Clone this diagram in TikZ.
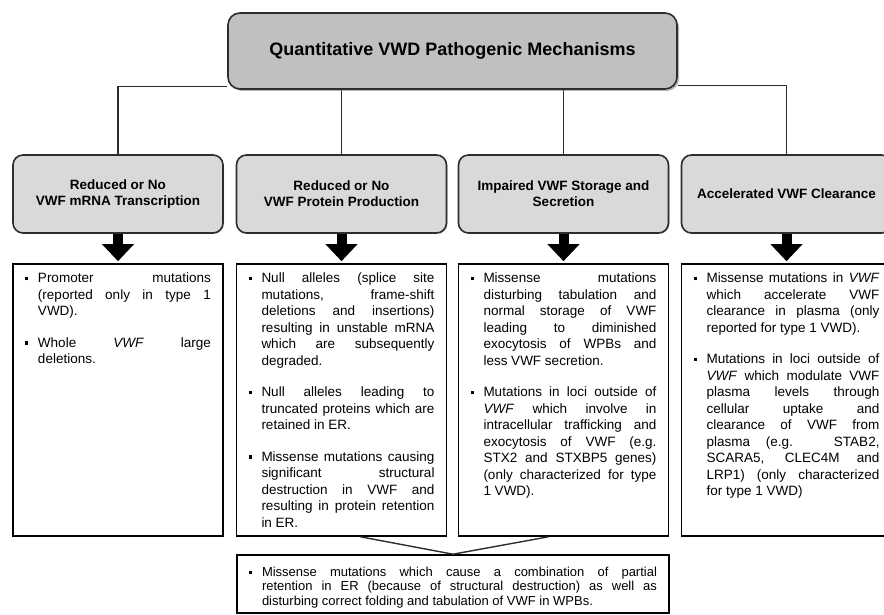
\documentclass[tikz,border=0pt]{standalone}
\usepackage{fontspec}
\setmainfont{Liberation Sans}
\usepackage{xcolor}
\definecolor{headfill}{RGB}{192, 192, 192}
\definecolor{catfill}{RGB}{217, 217, 217}
\definecolor{edge}{RGB}{45, 45, 45}
\usepackage{tikz}
\usetikzlibrary{shapes, arrows.meta, positioning, calc, shadows, backgrounds}

\newcommand{\mechfont}{\fontsize{13.5}{16.5}\selectfont}
\newcommand{\bitem}{\par\addvspace{15pt}\hangindent=13pt\hangafter=1\noindent
	\hbox to 13pt{\raisebox{2.6pt}{\rule{3.2pt}{3.2pt}}\hfil}\ignorespaces}
\newcommand{\mechtext}[2]{\begin{minipage}[t][#1][t]{186pt}\mechfont\hyphenpenalty=10000
		\exhyphenpenalty=10000\tolerance=10000\hbadness=10000\vbadness=10000 #2\end{minipage}}

\tikzset{
	headbox/.style={draw=edge, line width=1.6pt, fill=headfill, rounded corners=12pt,
		minimum width=449pt, minimum height=76pt, font=\fontsize{18}{22}\selectfont\bfseries,
		drop shadow={shadow xshift=2pt, shadow yshift=-2pt, opacity=.55}},
	catbox/.style={draw=edge, line width=1.6pt, fill=catfill, rounded corners=10pt,
		minimum width=210pt, minimum height=78pt, align=center,
		font=\fontsize{13.5}{16}\selectfont\bfseries,
		drop shadow={shadow xshift=1pt, shadow yshift=-1pt, opacity=.35}},
	mechbox/.style={draw=black, line width=1.6pt, fill=white, minimum width=210pt,
		minimum height=272pt, inner xsep=12pt, inner ysep=9pt},
	link/.style={draw=edge, line width=1.4pt},
	bigarrow/.style={line width=10pt, -{Triangle[width=31pt,length=17pt]}, shorten >=2pt}
}

\begin{document}
\begin{tikzpicture}[x=1pt, y=1pt]
	\useasboundingbox (0,0) rectangle (884,615);
	\clip (0,0) rectangle (884,615);
	\node[headbox] (title) at (452.5,564) {Quantitative VWD Pathogenic Mechanisms};
	\node[catbox] (cat1) at (118,421) {Reduced or No\\VWF mRNA Transcription};
	\node[catbox] (cat2) at (341.5,421) {Reduced or No\\VWF Protein Production};
	\node[catbox] (cat3) at (563.5,421) {Impaired VWF Storage and\\Secretion};
	\node[catbox] (cat4) at (786.5,421) {Accelerated VWF Clearance};
	\node[mechbox] (mech1) at (118,215) {\mechtext{254pt}{%
			\bitem Promoter mutations\linebreak (reported only in type 1\linebreak VWD).
			\bitem Whole \textit{VWF} large\linebreak deletions.}};
	\node[mechbox] (mech2) at (341.5,215) {\mechtext{254pt}{%
			\bitem Null alleles (splice site\linebreak mutations, frame-shift\linebreak deletions and insertions)\linebreak resulting in unstable mRNA\linebreak which are subsequently\linebreak degraded.
			\bitem Null alleles leading to\linebreak truncated proteins which are\linebreak retained in ER.
			\bitem Missense mutations causing\linebreak significant structural\linebreak destruction in VWF and\linebreak resulting in protein retention\linebreak in ER.}};
	\node[mechbox] (mech3) at (563.5,215) {\mechtext{254pt}{%
			\bitem Missense mutations\linebreak disturbing tabulation and\linebreak normal storage of VWF\linebreak leading to diminished\linebreak exocytosis of WPBs and\linebreak less VWF secretion.
			\bitem Mutations in loci outside of\linebreak \textit{VWF} which involve in\linebreak intracellular trafficking and\linebreak exocytosis of VWF (e.g.\linebreak STX2 and STXBP5 genes)\linebreak (only characterized for type\linebreak 1 VWD).}};
	\node[mechbox] (mech4) at (786.5,215) {\mechtext{254pt}{%
			\bitem Missense mutations in \textit{VWF}\linebreak which accelerate VWF\linebreak clearance in plasma (only\linebreak reported for type 1 VWD).
			\bitem Mutations in loci outside of\linebreak \textit{VWF} which modulate VWF\linebreak plasma levels through\linebreak cellular uptake and\linebreak clearance of VWF from\linebreak plasma (e.g. STAB2,\linebreak SCARA5, CLEC4M and\linebreak LRP1) (only characterized\linebreak for type 1 VWD)}};
	\node[mechbox, minimum width=432pt, minimum height=58pt, inner ysep=4pt] (combo) at (453,31) {\begin{minipage}[t][50pt][t]{408pt}\fontsize{13}{14.5}\selectfont
			\tolerance=10000\hbadness=10000\vspace*{8pt}%
			\bitem Missense mutations which cause a combination of partial\linebreak retention in ER (because of structural destruction) as well as\linebreak disturbing correct folding and tabulation of VWF in WPBs.\end{minipage}};
	\begin{scope}[on background layer]
		\draw[link] ([yshift=3pt]title.south west) -| (cat1.north);
		\draw[link] ([yshift=4pt]title.south east) -| (cat4.north);
		\draw[link] (cat2.north) -- (cat2.north |- title.south);
		\draw[link] (cat3.north) -- (cat3.north |- title.south);
	\end{scope}
	\foreach \i in {1,...,4}
	\draw[bigarrow] (cat\i.south) -- (mech\i.north);
	\draw[link] ([xshift=19pt]mech2.south) -- (combo.north) -- ([xshift=-15pt]mech3.south);
\end{tikzpicture}
\end{document}
